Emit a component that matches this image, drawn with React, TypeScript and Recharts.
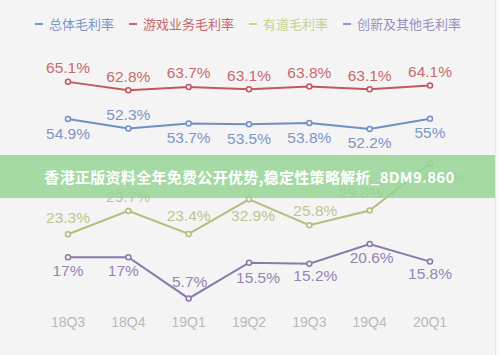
import React from 'react';
import { LineChart, Line, XAxis, YAxis, LabelList } from 'recharts';

// quarters on the x axis
const quarters = ['18Q3', '18Q4', '19Q1', '19Q2', '19Q3', '19Q4', '20Q1'];

// gross margin series, in %
const totalMargin = [54.9, 52.3, 53.7, 53.5, 53.8, 52.2, 55];
const gameMargin = [65.1, 62.8, 63.7, 63.1, 63.8, 63.1, 64.1];
const youdaoMargin = [23.3, 29.7, 23.4, 32.9, 25.8, 29.8, 42.7];
const otherMargin = [17, 17, 5.7, 15.5, 15.2, 20.6, 15.8];

const seriesNames = ['总体毛利率', '游戏业务毛利率', '有道毛利率', '创新及其他毛利率'];

const data = quarters.map((q, i) => ({
  q,
  total: totalMargin[i],
  game: gameMargin[i],
  youdao: youdaoMargin[i],
  other: otherMargin[i],
}));

const BG = '#f4f4f4';
const LABEL_FONT = '"Liberation Sans", Arial, sans-serif';

const SERIES = [
  { key: 'total', line: '#7190c2', text: '#7d96c4', legend: '#7d95c4' },
  { key: 'game', line: '#c2575d', text: '#c76a6f', legend: '#c8666c' },
  { key: 'youdao', line: '#b3bd7d', text: '#bfc58f', legend: '#c6d096' },
  { key: 'other', line: '#8c79ab', text: '#9585b3', legend: '#9c8dbd' },
];

// label placement per point (dx, dy from the dot centre)
const UP = { dx: 0, dy: -14 };
const DOWN = { dx: 0, dy: 14 };
const PLACES: Record<string, { dx: number; dy: number }[]> = {
  total: [DOWN, UP, DOWN, DOWN, DOWN, DOWN, DOWN],
  game: [UP, UP, UP, UP, UP, UP, UP],
  youdao: [
    { dx: 0, dy: -17 },
    { dx: 0, dy: -14 },
    { dx: 0, dy: -18 },
    { dx: 4, dy: 16 },
    { dx: 6, dy: -15 },
    { dx: -9, dy: -18 },
    { dx: 13, dy: 14 },
  ],
  other: [
    { dx: 0, dy: 13 },
    { dx: -5, dy: 13 },
    { dx: 1, dy: -17 },
    { dx: 9, dy: 15 },
    { dx: 6, dy: 12 },
    { dx: 2, dy: 13 },
    { dx: 0, dy: 12 },
  ],
};

const makeLabel = (key: string, color: string) => (props: any) => {
  const { x, y, value, index } = props;
  const p = PLACES[key][index] || UP;
  return (
    <text
      x={x + p.dx}
      y={y + p.dy}
      textAnchor="middle"
      dominantBaseline="central"
      fill={color}
      fontSize={15.5}
      fontFamily={LABEL_FONT}
    >
      {value}%
    </text>
  );
};

const Legend = () => (
  <div
    style={{
      position: 'absolute',
      left: 35,
      top: 15,
      display: 'flex',
      alignItems: 'center',
      fontFamily: '"Noto Sans CJK SC", sans-serif',
      fontSize: 13,
      lineHeight: '18px',
    }}
  >
    {SERIES.map((s, i) => (
      <div key={s.key} style={{ display: 'flex', alignItems: 'center', marginRight: 15 }}>
        <span style={{ width: 8, height: 2, background: s.legend, marginRight: 6 }} />
        <span style={{ color: s.legend }}>{seriesNames[i]}</span>
      </div>
    ))}
  </div>
);

export default function App() {
  return (
    <div
      style={{
        position: 'absolute',
        left: 0,
        top: 0,
        width: 499,
        height: 355,
        background: BG,
        overflow: 'hidden',
      }}
    >
      <Legend />
      <LineChart
        width={499}
        height={355}
        data={data}
        margin={{ top: 64, right: 69, left: 68, bottom: 24 }}
      >
        <XAxis
          dataKey="q"
          axisLine={false}
          tickLine={false}
          height={30}
          tickMargin={10}
          tick={{ fill: '#b9b9b9', fontSize: 14, fontFamily: LABEL_FONT }}
          interval={0}
        />
        <YAxis hide domain={[5, 70]} />
        {SERIES.map((s) => (
          <Line
            key={s.key}
            dataKey={s.key}
            type="linear"
            stroke={s.line}
            strokeWidth={2}
            dot={{ r: 2.5, stroke: s.line, strokeWidth: 1.5, fill: BG }}
            isAnimationActive={false}
          >
            <LabelList dataKey={s.key} content={makeLabel(s.key, s.text)} />
          </Line>
        ))}
      </LineChart>
      <div
        style={{
          position: 'absolute',
          left: 0,
          top: 155,
          width: 499,
          height: 43,
          background: 'rgba(148, 212, 148, 0.82)',
          color: '#ffffff',
          fontFamily: '"Noto Sans CJK SC", sans-serif',
          fontWeight: 700,
          fontSize: 15,
          lineHeight: '43px',
          textAlign: 'center',
          letterSpacing: 0.3,
        }}
      >
        香港正版资料全年免费公开优势,稳定性策略解析_8DM9.860
      </div>
      <div
        style={{
          position: 'absolute',
          left: 495,
          top: 0,
          width: 4,
          height: 355,
          borderLeft: '1px solid #e8e8e8',
          background: '#f8f8f8',
        }}
      />
    </div>
  );
}
